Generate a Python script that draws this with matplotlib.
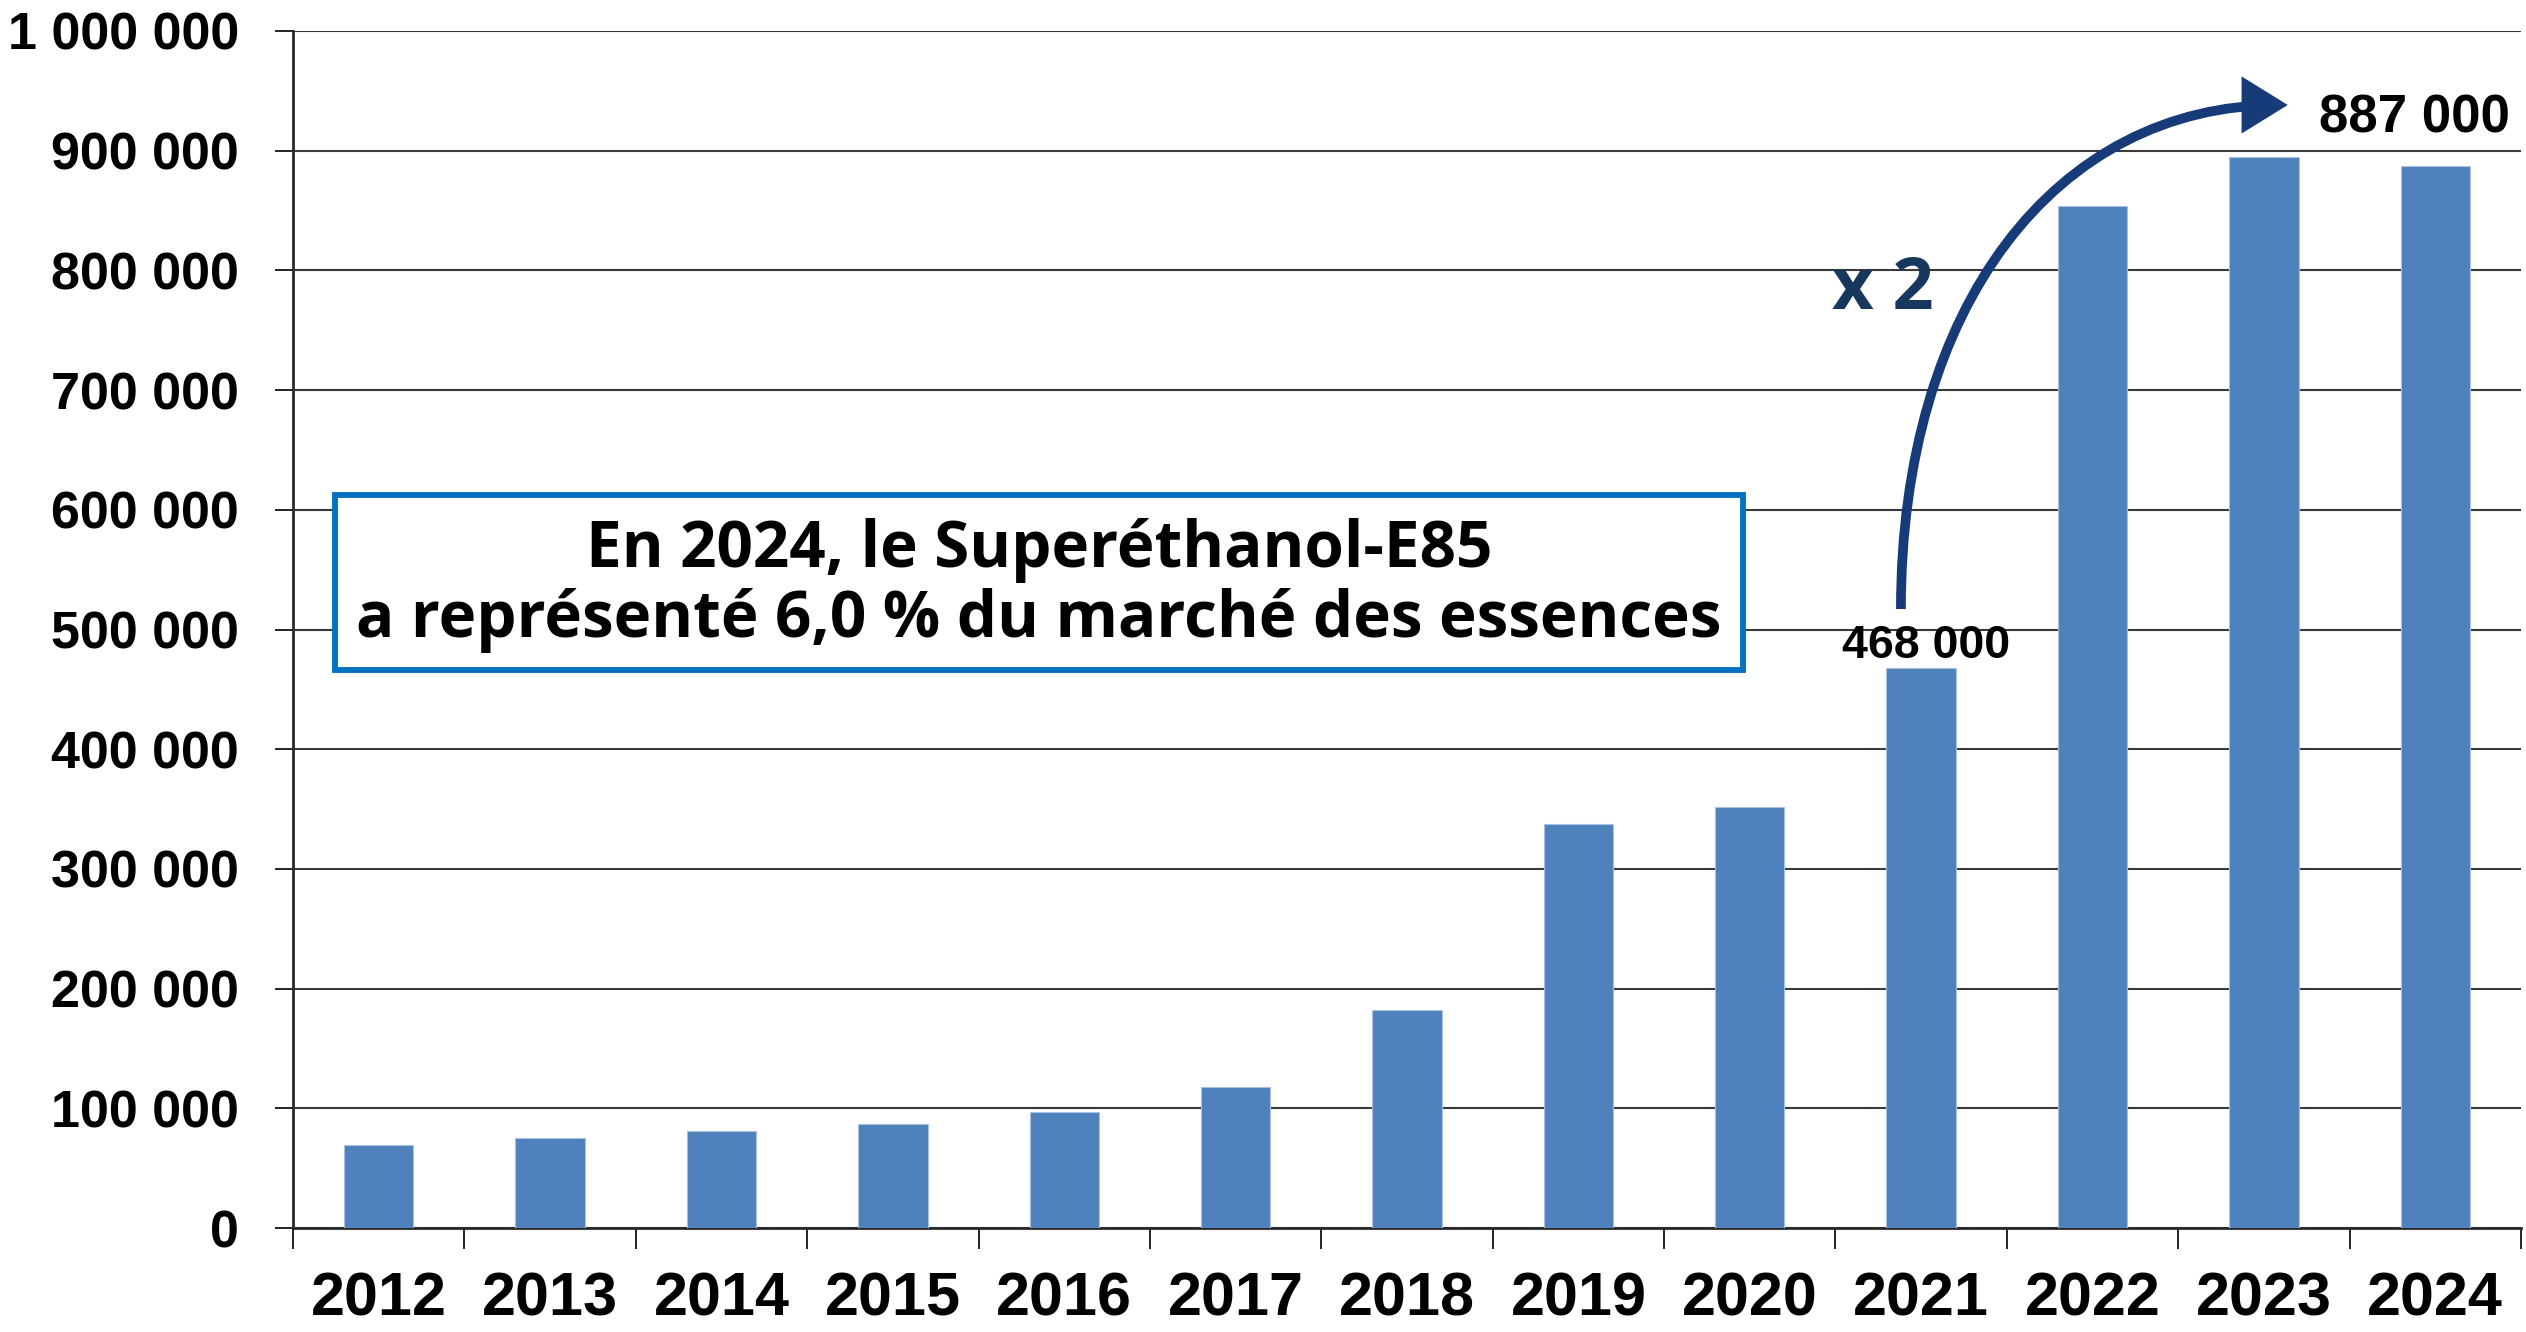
import matplotlib
matplotlib.use('Agg')
import matplotlib.pyplot as plt
from matplotlib.patches import Rectangle, FancyArrowPatch, ArrowStyle
from matplotlib.path import Path
from matplotlib.ticker import FuncFormatter
import numpy as np

# ---------------- data ----------------
years = ['2012', '2013', '2014', '2015', '2016', '2017', '2018',
         '2019', '2020', '2021', '2022', '2023', '2024']
volumes = [69000, 75000, 81000, 86500, 96500, 117500, 182500,
           337500, 352000, 468000, 853500, 895000, 887000]
y_ticks = [0, 100000, 200000, 300000, 400000, 500000,
           600000, 700000, 800000, 900000, 1000000]
label_2021 = '468 000'
label_2024 = '887 000'
growth_label = 'x 2'
box_lines = ['En 2024, le Superéthanol-E85',
             'a représenté 6,0 % du marché des essences']

# ---------------- figure ----------------
plt.rcParams['font.family'] = ['Liberation Sans', 'DejaVu Sans']
W, H, DPI = 2526, 1332, 100
fig = plt.figure(figsize=(W / DPI, H / DPI), dpi=DPI)
fig.patch.set_facecolor('white')

L, R, B, T = 293 / W, 2521 / W, 1 - 1228 / H, 1 - 31 / H
ax = fig.add_axes([L, B, R - L, T - B])

x = np.arange(len(years))
ax.bar(x, volumes, width=0.405, color='#4F81BD', edgecolor='#A9C1E0',
       linewidth=0.8, zorder=3)

ax.set_xlim(-0.5, len(years) - 0.5)
ax.set_ylim(0, 1000000)
ax.set_yticks(y_ticks)
ax.yaxis.set_major_formatter(
    FuncFormatter(lambda v, p: f'{int(v):,}'.replace(',', ' ')))
ax.grid(axis='y', color='#3a3a3a', linewidth=1.5, zorder=1)
ax.set_axisbelow(True)

ax.set_xticks(x)
ax.set_xticklabels(years)
ax.set_xticks(np.arange(-0.5, len(years), 1.0), minor=True)
ax.tick_params(axis='x', which='major', length=0, pad=31,
               labelsize=44)
ax.tick_params(axis='x', which='minor', length=15, width=1.4,
               color='#222222', direction='out')
ax.tick_params(axis='y', length=13, width=1.4, color='#222222',
               pad=26, labelsize=37.5, direction='out')
for lab in ax.get_xticklabels() + ax.get_yticklabels():
    lab.set_fontweight('bold')

for s in ['top', 'right']:
    ax.spines[s].set_visible(False)
for s in ['left', 'bottom']:
    ax.spines[s].set_color('#2a2a2a')
    ax.spines[s].set_linewidth(2.0)

# ---------------- annotations ----------------
ax.text(9.03, volumes[9] + 18000, label_2021, ha='center', va='center',
        fontsize=33.5, fontweight='bold', color='black', zorder=6)
ax.text(11.88, 927000, label_2024, ha='center', va='center',
        fontsize=38, fontweight='bold', color='black', zorder=6,
        clip_on=False)

box_font = ['Open Sans', 'DejaVu Sans']
ax.text(8.777, 783600, growth_label, ha='center', va='center',
        fontsize=52, fontweight='bold', color='#17375E',
        family=box_font, zorder=6)

# curved arrow (quarter ellipse, cubic Bezier)
x0, y0 = 8.882, 517100
x1, y1 = 11.139, 938200
k = 0.6
verts = [(x0, y0), (x0, y0 + k * (y1 - y0)),
         (x1 - k * (x1 - x0), y1), (x1, y1)]
path = Path(verts, [Path.MOVETO, Path.CURVE4, Path.CURVE4, Path.CURVE4])
arrow = FancyArrowPatch(path=path,
                        arrowstyle=ArrowStyle('-|>', head_length=1.05,
                                              head_width=0.65),
                        mutation_scale=22, color='#173A78', linewidth=7,
                        shrinkA=0, shrinkB=0, zorder=6, clip_on=False,
                        joinstyle='miter', capstyle='butt')
ax.add_patch(arrow)

# text box
bx0, by0, bx1, by1 = 335, 495, 1743, 670
rect = Rectangle((bx0 / W, 1 - by1 / H), (bx1 - bx0) / W, (by1 - by0) / H,
                 transform=fig.transFigure, facecolor='white',
                 edgecolor='#0070C0', linewidth=4.2, zorder=5,
                 clip_on=False)
ax.add_patch(rect)
cx = (bx0 + bx1) / 2
t1 = fig.text(cx / W, 1 - 550 / H, box_lines[0], ha='center', va='center',
              fontsize=40, fontweight='bold', family=box_font, zorder=7)
t2 = fig.text(cx / W, 1 - 620 / H, box_lines[1], ha='center', va='center',
              fontsize=40, fontweight='bold', family=box_font, zorder=7)

fig.canvas.draw()
rend = fig.canvas.get_renderer()
wbb = t2.get_window_extent(rend).width
fs = 40 * 1366 / wbb
t1.set_fontsize(fs)
t2.set_fontsize(fs)

fig.savefig('out.png', dpi=DPI, facecolor='white')
